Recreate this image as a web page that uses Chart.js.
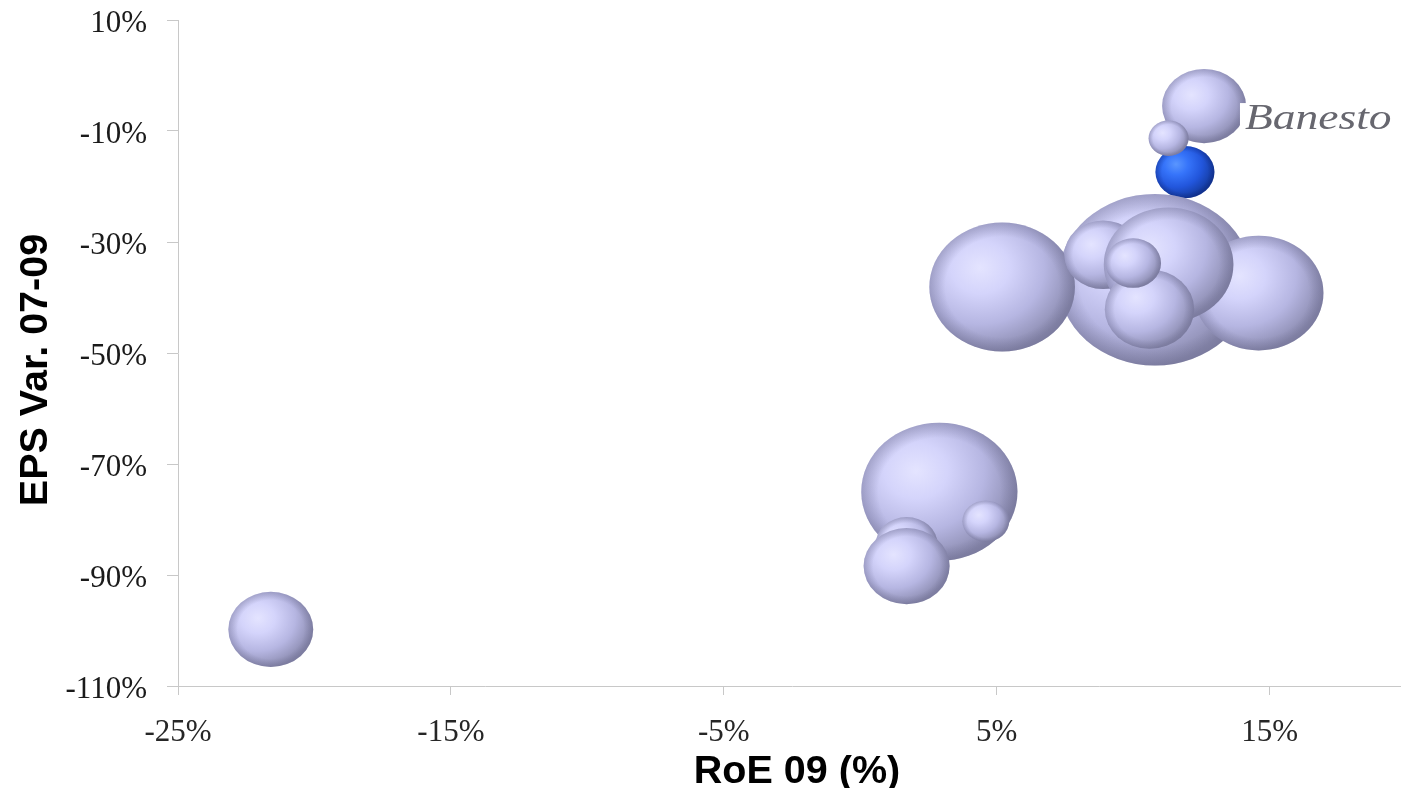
<!DOCTYPE html>
<html>
<head>
<meta charset="utf-8">
<script src="https://cdn.jsdelivr.net/npm/chart.js@4.4.0/dist/chart.umd.min.js"></script>
<style>
  html, body { margin: 0; padding: 0; background: #fff; overflow: hidden; width: 1401px; height: 788px; }
  canvas { display: block; }
</style>
</head>
<body>
<canvas id="chart" width="1406" height="788" style="width:1406px;height:788px"></canvas>
<script>
// Peer banks: RoE 2009 (%), EPS change 2007-09 (%), bubble size (relative)
const peerRoe  = [10.8,  5.2, 14.6,  8.9, 11.3, 10.6, 10.0,  2.9,  4.6,  1.7,  1.7, -21.6, 12.6, 11.3];
const peerEps  = [-36.8, -38.1, -39.2, -32.3, -34.1, -42.1, -33.8, -75.0, -80.3, -84.5, -88.4, -99.8, -5.5, -11.3];
const peerSize = [94, 53, 42, 15, 42, 20, 7.8, 61, 5.5, 9.6, 18.5, 18, 17.6, 4.0];

// Banesto
const banestoRoe  = [11.9];
const banestoEps  = [-17.4];
const banestoSize = [8.7];

const xTickValues = [-25, -15, -5, 5, 15];
const yTickValues = [-110, -90, -70, -50, -30, -10, 10];

const xTitle = 'RoE 09 (%)';
const yTitle = 'EPS Var. 07-09';
const logoText = 'Banesto';

const toPoints = (xs, ys, ss) => xs.map((x, i) => ({ x: x, y: ys[i], r: 10 * Math.sqrt(ss[i]) }));

// Draws each bubble as a shaded, slightly flattened sphere
const shadedBubbles = {
  id: 'shadedBubbles',
  beforeDatasetDraw(chart, args) {
    const ctx = chart.ctx;
    const ds = chart.data.datasets[args.index];
    const s = ds.shade;
    const squash = 0.885;
    ctx.save();
    ctx.beginPath();
    const a = chart.chartArea;
    ctx.rect(a.left, a.top, a.right - a.left, a.bottom - a.top);
    ctx.clip();
    args.meta.data.forEach((el) => {
      const r = el.options.radius;
      ctx.save();
      ctx.translate(el.x, el.y);
      ctx.scale(1, squash);
      ctx.beginPath();
      ctx.arc(0, 0, r, 0, Math.PI * 2);
      const g = ctx.createRadialGradient(-0.3 * r, -0.3 * r, 0, -0.3 * r, -0.3 * r, 1.35 * r);
      g.addColorStop(0, s[0]);
      g.addColorStop(0.3, s[1]);
      g.addColorStop(0.65, s[2]);
      g.addColorStop(1, s[3]);
      ctx.fillStyle = g;
      ctx.fill();
      const rim = ctx.createRadialGradient(0, 0, 0.78 * r, 0, 0, r);
      rim.addColorStop(0, s[4] + '0)');
      rim.addColorStop(1, s[4] + '0.35)');
      ctx.fillStyle = rim;
      ctx.fill();
      ctx.restore();
    });
    ctx.restore();
    return false;
  }
};

// Axis titles and the Banesto label
const annotations = {
  id: 'annotations',
  afterDraw(chart) {
    const ctx = chart.ctx;
    const a = chart.chartArea;
    ctx.save();
    ctx.fillStyle = '#000';
    ctx.font = 'bold 39.5px "Liberation Sans", Arial, sans-serif';
    ctx.textAlign = 'center';
    ctx.textBaseline = 'alphabetic';
    ctx.fillText(xTitle, (a.left + a.right) / 2 + 5, a.bottom + 97);
    ctx.translate(47, (a.top + a.bottom) / 2 + 17);
    ctx.rotate(-Math.PI / 2);
    ctx.fillText(yTitle, 0, 0);
    ctx.restore();

    const el = chart.getDatasetMeta(1).data[0];
    if (el) {
      ctx.save();
      ctx.fillStyle = '#fff';
      ctx.fillRect(el.x + 55, el.y - 69, 160, 46);
      ctx.translate(el.x + 60, el.y - 43);
      ctx.scale(1.3, 1);
      ctx.fillStyle = '#67676f';
      ctx.font = 'italic 35px "Liberation Serif", "Times New Roman", serif';
      ctx.textAlign = 'left';
      ctx.textBaseline = 'alphabetic';
      ctx.fillText(logoText, 0, 0);
      ctx.restore();
    }
  }
};

const axisColor = '#c8c8c8';
const tickFont = { family: '"Liberation Serif", "Times New Roman", serif', size: 31 };

new Chart(document.getElementById('chart'), {
  type: 'bubble',
  data: {
    datasets: [
      {
        label: 'Peers',
        data: toPoints(peerRoe, peerEps, peerSize),
        shade: ['#e4e4ff', '#d4d4fb', '#b6b6e2', '#8a8aae', 'rgba(95,95,130,'],
        backgroundColor: '#c4c4ee'
      },
      {
        label: 'Banesto',
        data: toPoints(banestoRoe, banestoEps, banestoSize),
        shade: ['#5a96ff', '#3674fa', '#2256dc', '#143a9c', 'rgba(10,30,110,'],
        backgroundColor: '#2f6cf2'
      }
    ]
  },
  options: {
    responsive: false,
    animation: false,
    events: [],
    layout: { autoPadding: false, padding: { top: 20, right: 0, bottom: 0, left: 0 } },
    plugins: { legend: { display: false }, tooltip: { enabled: false } },
    scales: {
      x: {
        type: 'linear',
        min: -25,
        max: 20,
        afterBuildTicks: (s) => { s.ticks = xTickValues.map(v => ({ value: v })); },
        afterFit: (s) => { s.height = 102; s.paddingLeft = 0; s.paddingRight = 0; },
        border: { color: axisColor, width: 1 },
        grid: { drawOnChartArea: false, drawTicks: true, tickLength: 9, color: axisColor },
        ticks: { font: tickFont, color: '#262626', padding: 19, maxRotation: 0, autoSkip: false,
                 callback: (v) => v + '%' }
      },
      y: {
        type: 'linear',
        min: -110,
        max: 10,
        afterBuildTicks: (s) => { s.ticks = yTickValues.map(v => ({ value: v })); },
        afterFit: (s) => { s.width = 178; s.paddingTop = 0; s.paddingBottom = 0; },
        border: { color: axisColor, width: 1 },
        grid: { drawOnChartArea: false, drawTicks: true, tickLength: 11, color: axisColor },
        ticks: { font: tickFont, color: '#1a1a1a', padding: 20, labelOffset: 4, autoSkip: false,
                 callback: (v) => v + '%' }
      }
    }
  },
  plugins: [shadedBubbles, annotations]
});
</script>
</body>
</html>
